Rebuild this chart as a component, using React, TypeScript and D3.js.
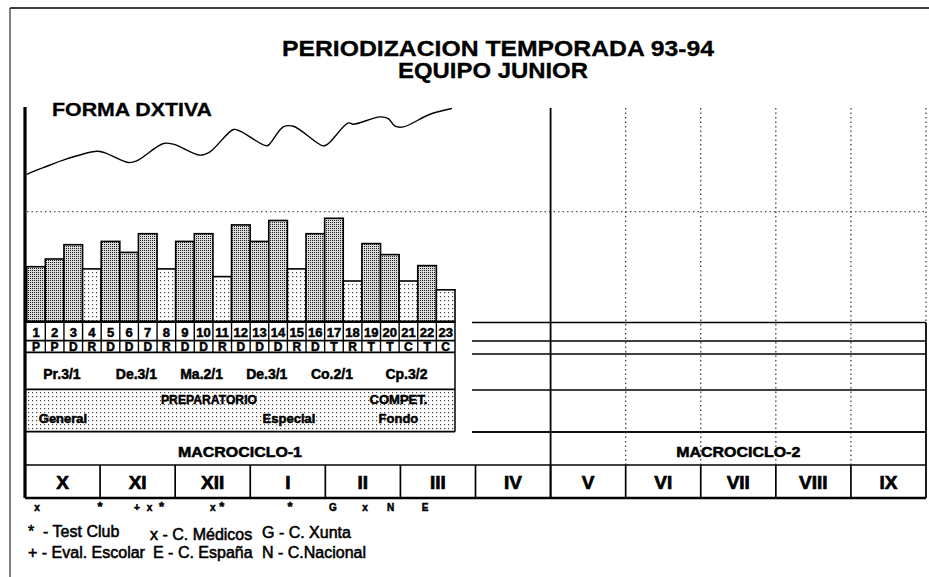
import * as d3 from 'd3';

// microciclos (semanas 1..23)
const weekTypes = ['P', 'P', 'D', 'R', 'D', 'D', 'D', 'R', 'D', 'D', 'R', 'D', 'D', 'D', 'R', 'D', 'T', 'R', 'T', 'T', 'C', 'T', 'C'];
const weekLoads = [50, 57, 70, 48, 73, 63, 80, 48, 73, 80, 41, 88, 73, 92, 48, 80, 94, 37, 71, 61, 37, 51, 29];
const lightTypes = ['R', 'C'];

// forma deportiva (semana, valor)
const formaWeeks = [0, 0.89, 2.15, 3.76, 4.2, 5.46, 5.91, 7.34, 7.87, 9.31, 9.84, 11.1, 11.46, 12.89, 13.07, 13.78, 14.32, 15.93, 16.2, 17.27, 17.54, 18.97, 19.42, 19.78, 20.23, 21.66, 22.83];
const formaValues = [34, 40, 48, 55, 53.5, 44.7, 46.2, 62, 61.4, 51.4, 54.4, 74.7, 73.2, 59.8, 62, 77.1, 77.7, 59.8, 62, 80.7, 79.5, 86.2, 84.7, 77.7, 77.1, 88.6, 93.8];

// mesociclos
const mesoLabels = ['Pr.3/1', 'De.3/1', 'Ma.2/1', 'De.3/1', 'Co.2/1', 'Cp.3/2'];
const mesoWeeks = [4, 4, 3, 4, 3, 5];

// periodos
const periodLabels = ['PREPARATORIO', 'COMPET.'];
const periodSubLabels = [['General', 'Especial'], ['Fondo']];
const periodWeeks = [18, 5];

const months = ['X', 'XI', 'XII', 'I', 'II', 'III', 'IV', 'V', 'VI', 'VII', 'VIII', 'IX'];
const macroLabels = ['MACROCICLO-1', 'MACROCICLO-2'];
const macroMonths = [7, 5];

// controles (posicion en meses desde octubre)
const eventMarks = ['x', '*', '+', 'x', '*', 'x', '*', '*', 'G', 'x', 'N', 'E'];
const eventMonths = [0.16, 1.0, 1.49, 1.66, 1.82, 2.5, 2.62, 3.53, 4.1, 4.53, 4.87, 5.33];

const legendRow1 = ['*  - Test Club', 'x - C. Médicos', 'G - C. Xunta'];
const legendRow2 = ['+ - Eval. Escolar', 'E - C. España', 'N - C.Nacional'];

const W = 929;
const H = 577;
const sans = '"Liberation Sans", Arial, sans-serif';

export default function App() {
  const x = d3.scaleLinear().domain([0, weekLoads.length]).range([26.7, 455]);
  const mx = d3.scaleLinear().domain([0, months.length]).range([25, 926]);
  const yLoad = d3.scaleLinear().domain([0, 100]).range([321.7, 211.7]);
  const yForma = d3.scaleLinear().domain([0, 100]).range([211.7, 101.7]);

  const formaLine = d3.line<number>()
    .x((_, i) => x(formaWeeks[i]))
    .y(d => yForma(d))
    .curve(d3.curveCatmullRom.alpha(0.5));

  const rowsL = [321.7, 340.7, 352.3, 389.3, 431.7];
  const rowsR = [322.5, 341, 354, 390, 432];
  const left = 25, wEnd = 455, rStart = 472, right = 926;
  const topV = 108, macroTop = 432, monthTop = 465, monthBot = 498;
  const split = mx(macroMonths[0]);

  const mesoEdges = d3.cumsum(mesoWeeks);
  const periodEdges = d3.cumsum(periodWeeks);
  const compX = (x(periodEdges[0]) + x(periodEdges[1])) / 2 - 10;

  const heavy = { stroke: '#000', strokeWidth: 0.5 };

  const legX1 = [28, 150, 262];
  const legX2 = [28, 153, 262];

  return (
    <div style={{ position: 'absolute', left: 0, top: 0 }}>
      <svg width={W} height={H} style={{ display: 'block', background: '#fff' }}>
        <defs>
          <pattern id="dark" width="2" height="2" patternUnits="userSpaceOnUse">
            <rect width="2" height="2" fill="#dcdcdc" />
            <rect width="1" height="1" fill="#1a1a1a" />
          </pattern>
          <pattern id="light" width="4" height="4" patternUnits="userSpaceOnUse">
            <rect width="4" height="4" fill="#fff" />
            <rect width="1.2" height="1.2" fill="#444" />
          </pattern>
        </defs>

        {/* marco */}
        <line x1={10} x2={W} y1={8} y2={8} stroke="#000" strokeWidth={1.5} />
        <line x1={10} x2={10} y1={8} y2={H} stroke="#000" strokeWidth={1} />

        {/* titulo */}
        <text x={498} y={56} textAnchor="middle" fontFamily={sans} fontWeight="bold" fontSize={21.5}
          textLength={432} lengthAdjust="spacingAndGlyphs" {...heavy} strokeWidth={0.3}>PERIODIZACION TEMPORADA 93-94</text>
        <text x={493} y={78} textAnchor="middle" fontFamily={sans} fontWeight="bold" fontSize={21.5}
          textLength={190} lengthAdjust="spacingAndGlyphs" {...heavy} strokeWidth={0.3}>EQUIPO JUNIOR</text>

        <text x={52} y={116} fontFamily={sans} fontWeight="bold" fontSize={18}
          textLength={160} lengthAdjust="spacingAndGlyphs" {...heavy} strokeWidth={0.3}>FORMA DXTIVA</text>

        {/* rejilla */}
        <line x1={27} x2={right} y1={yLoad(100)} y2={yLoad(100)} stroke="#333" strokeWidth={1} strokeDasharray="1.5,3" />
        {d3.range(macroMonths[0] + 1, months.length).map(m => (
          <line key={m} x1={mx(m)} x2={mx(m)} y1={topV} y2={monthTop}
            stroke="#333" strokeWidth={1.2} strokeDasharray="1.5,3" />
        ))}
        <line x1={right} x2={right} y1={topV} y2={rowsR[0]} stroke="#333" strokeWidth={1.2} strokeDasharray="1.5,3" />
        <line x1={split} x2={split} y1={topV} y2={monthBot} stroke="#000" strokeWidth={1.8} />

        {/* curva de forma */}
        <path d={formaLine(formaValues) || ''} fill="none" stroke="#000" strokeWidth={1.4} />

        {/* barras de carga */}
        {weekLoads.map((v, i) => (
          <rect key={i} x={x(i)} y={yLoad(v)} width={x(i + 1) - x(i)} height={yLoad(0) - yLoad(v)}
            fill={lightTypes.includes(weekTypes[i]) ? 'url(#light)' : 'url(#dark)'}
            stroke="#000" strokeWidth={1.6} />
        ))}

        {/* fondo periodos */}
        <rect x={left} y={rowsL[3]} width={wEnd - left} height={rowsL[4] - rowsL[3]} fill="url(#light)" />

        {/* filas izquierda */}
        {rowsL.map((y, i) => (
          <line key={i} x1={left} x2={wEnd} y1={y} y2={y} stroke="#000" strokeWidth={i === 0 ? 2.4 : 1.7} />
        ))}
        <line x1={wEnd} x2={wEnd} y1={rowsL[0]} y2={rowsL[4]} stroke="#000" strokeWidth={1.5} />
        {d3.range(1, weekLoads.length).map(i => (
          <line key={i} x1={x(i)} x2={x(i)} y1={rowsL[0]} y2={rowsL[2]} stroke="#000" strokeWidth={1.4} />
        ))}
        {mesoEdges.slice(0, -1).map((e, i) => (
          <line key={i} x1={x(e)} x2={x(e)} y1={rowsL[2]} y2={rowsL[3]} stroke="#000" strokeWidth={1.6} />
        ))}
        {periodEdges.slice(0, -1).map((e, i) => (
          <line key={i} x1={x(e)} x2={x(e)} y1={rowsL[3]} y2={rowsL[4]} stroke="#000" strokeWidth={1.6} />
        ))}

        {/* filas derecha */}
        {rowsR.map((y, i) => (
          <line key={i} x1={rStart} x2={right} y1={y} y2={y} stroke="#000" strokeWidth={1.7} />
        ))}
        <line x1={right} x2={right} y1={rowsR[0]} y2={monthBot} stroke="#000" strokeWidth={1.8} />

        {/* textos semanas */}
        {weekTypes.map((t, i) => (
          <g key={i} fontFamily={sans} fontWeight="bold" textAnchor="middle" {...heavy}>
            <text x={(x(i) + x(i + 1)) / 2} y={336.5} fontSize={13}>{i + 1}</text>
            <text x={(x(i) + x(i + 1)) / 2} y={351} fontSize={12}>{t}</text>
          </g>
        ))}
        {mesoLabels.map((l, i) => {
          const s = i === 0 ? 0 : mesoEdges[i - 1];
          return (
            <text key={i} x={(x(s) + x(mesoEdges[i])) / 2 - 2} y={379} textAnchor="middle"
              fontFamily={sans} fontWeight="bold" fontSize={14} {...heavy}>{l}</text>
          );
        })}

        {/* periodos */}
        <g fontFamily={sans} fontWeight="bold" textAnchor="middle" fontSize={13} {...heavy}>
          <text x={209} y={404} textLength={96} lengthAdjust="spacingAndGlyphs">{periodLabels[0]}</text>
          <text x={63} y={423}>{periodSubLabels[0][0]}</text>
          <text x={289} y={423}>{periodSubLabels[0][1]}</text>
          <text x={compX} y={404}>{periodLabels[1]}</text>
          <text x={compX} y={423}>{periodSubLabels[1][0]}</text>
        </g>

        {/* macrociclos */}
        <line x1={rStart} x2={right} y1={macroTop} y2={macroTop} stroke="#000" strokeWidth={1.7} />
        <text x={(left + wEnd) / 2} y={457} textAnchor="middle" fontFamily={sans} fontWeight="bold" fontSize={14}
          textLength={124} lengthAdjust="spacingAndGlyphs" {...heavy}>{macroLabels[0]}</text>
        <text x={(split + right) / 2} y={457} textAnchor="middle" fontFamily={sans} fontWeight="bold" fontSize={14}
          textLength={124} lengthAdjust="spacingAndGlyphs" {...heavy}>{macroLabels[1]}</text>

        {/* meses */}
        <line x1={left} x2={right} y1={monthTop} y2={monthTop} stroke="#000" strokeWidth={1.7} />
        <line x1={left} x2={right} y1={monthBot} y2={monthBot} stroke="#000" strokeWidth={2.4} />
        {d3.range(1, months.length).map(m => (
          <line key={m} x1={mx(m)} x2={mx(m)} y1={monthTop} y2={monthBot} stroke="#000" strokeWidth={1.7} />
        ))}
        {months.map((m, i) => (
          <text key={m} x={mx(i + 0.5)} y={489} textAnchor="middle" fontFamily={sans} fontWeight="bold" fontSize={19}
            {...heavy} strokeWidth={0.7}>{m}</text>
        ))}

        {/* eje */}
        <line x1={left} x2={left} y1={107} y2={monthBot} stroke="#000" strokeWidth={3.2} />

        {/* controles */}
        {eventMarks.map((s, i) => (
          <text key={i} x={mx(eventMonths[i])} y={511} textAnchor="middle" fontFamily={sans} fontWeight="bold"
            fontSize={s === '*' ? 13 : 10} {...heavy}>{s}</text>
        ))}

        {/* leyenda */}
        <g fontFamily={sans} fontSize={16} {...heavy} strokeWidth={0.55}>
          {legendRow1.map((t, i) => (
            <text key={i} x={legX1[i]} y={537 + (i === 1 ? 3 : i === 2 ? 1 : 0)} style={{ whiteSpace: 'pre' }}>{t}</text>
          ))}
          {legendRow2.map((t, i) => (
            <text key={i} x={legX2[i]} y={558}>{t}</text>
          ))}
        </g>
      </svg>
    </div>
  );
}
